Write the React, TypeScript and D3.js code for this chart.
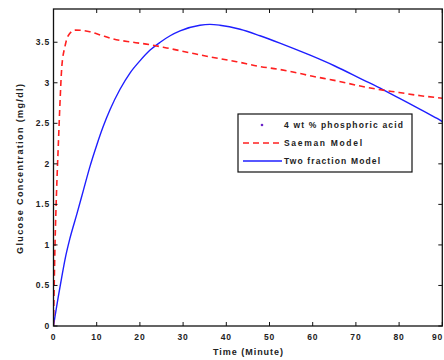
import React from "react";
import * as d3 from "d3";

// Time axis (minutes) and modelled glucose concentration (mg/dl)
const saemanTime = [0, 0.35, 0.7, 1.1, 1.5, 1.9, 2.66, 3.4, 5, 8.4, 10.8, 13.8, 18.4, 22.3, 26.2, 31.6, 36.2, 42.4, 47.8, 51.7, 55.7, 60, 65, 71, 75, 80, 85, 90];
const saemanConc = [0, 1.0, 1.65, 2.21, 2.75, 3.18, 3.45, 3.58, 3.65, 3.63, 3.59, 3.54, 3.5, 3.47, 3.43, 3.37, 3.32, 3.26, 3.2, 3.17, 3.13, 3.08, 3.03, 2.96, 2.92, 2.88, 2.84, 2.81];

const twoFracTime = [0, 0.35, 1.1, 1.9, 2.66, 3.8, 5.4, 6.9, 8.4, 10, 11.5, 13.1, 15.4, 17.7, 20, 22.3, 24.7, 27, 29.3, 33.9, 36.2, 38.5, 43.2, 47.8, 52.4, 59.4, 65, 71.9, 75, 80, 85, 88.8, 90];
const twoFracConc = [0, 0.12, 0.36, 0.6, 0.82, 1.08, 1.38, 1.67, 1.96, 2.23, 2.46, 2.67, 2.92, 3.12, 3.27, 3.4, 3.5, 3.58, 3.64, 3.71, 3.72, 3.71, 3.66, 3.58, 3.49, 3.34, 3.21, 3.03, 2.95, 2.81, 2.67, 2.56, 2.52];

const xTicks = [0, 10, 20, 30, 40, 50, 60, 70, 80, 90];
const yTicks = [0, 0.5, 1, 1.5, 2, 2.5, 3, 3.5];
const legendLabels = ["4 wt % phosphoric acid", "Saeman Model", "Two fraction Model"];
const legendWidths = [119, 78, 96];

const W = 444;
const H = 360;
const left = 53.5;
const right = 442.3;
const top = 9;
const bottom = 326;

export default function App() {
  const x = d3.scaleLinear().domain([0, 90]).range([left, right]);
  const y = d3.scaleLinear().domain([0, 3.91]).range([bottom, top]);

  const line = d3
    .line<[number, number]>()
    .x((d) => x(d[0]))
    .y((d) => y(d[1]))
    .curve(d3.curveMonotoneX);

  const saeman = line(saemanTime.map((t, i) => [t, saemanConc[i]] as [number, number])) || "";
  const twoFrac = line(twoFracTime.map((t, i) => [t, twoFracConc[i]] as [number, number])) || "";

  const font = "'Liberation Sans', Arial, sans-serif";
  const tickLen = 4;

  const lx = 238;
  const ly = 114;
  const lw = 174;
  const lh = 58;
  const rowY = [125, 143, 161];

  return (
    <svg
      width={W}
      height={H}
      style={{ position: "absolute", left: 0, top: 0, background: "#fff" }}
      fontFamily={font}
    >
      <defs>
        <clipPath id="plotClip">
          <rect x={left} y={top} width={right - left} height={bottom - top} />
        </clipPath>
      </defs>

      {/* curves */}
      <g clipPath="url(#plotClip)">
        <path d={twoFrac} fill="none" stroke="#1f1fff" strokeWidth={1.4} />
        <path d={saeman} fill="none" stroke="#ff2020" strokeWidth={1.6} strokeDasharray="6,4" />
      </g>

      {/* axes box */}
      <rect x={left} y={top} width={right - left} height={bottom - top} fill="none" stroke="#111" strokeWidth={1.3} />

      {/* x ticks */}
      {xTicks.map((t, i) => {
        const last = i === xTicks.length - 1;
        return (
          <g key={"x" + t}>
            <line x1={x(t)} x2={x(t)} y1={bottom} y2={bottom - tickLen} stroke="#111" strokeWidth={1} />
            <line x1={x(t)} x2={x(t)} y1={top} y2={top + tickLen} stroke="#111" strokeWidth={1} />
            <text
              x={last ? W - 1 : x(t)}
              y={340}
              textAnchor={last ? "end" : "middle"}
              fontSize={8.5}
              fontWeight="bold"
              letterSpacing={0.8}
              fill="#222"
            >
              {t}
            </text>
          </g>
        );
      })}

      {/* y ticks */}
      {yTicks.map((t) => (
        <g key={"y" + t}>
          <line x1={left} x2={left + tickLen} y1={y(t)} y2={y(t)} stroke="#111" strokeWidth={1} />
          <line x1={right} x2={right - tickLen} y1={y(t)} y2={y(t)} stroke="#111" strokeWidth={1} />
          <text x={50} y={y(t) + 3} textAnchor="end" fontSize={8.5} fontWeight="bold" letterSpacing={0.8} fill="#222">
            {t}
          </text>
        </g>
      ))}

      {/* axis labels */}
      <text
        x={248}
        y={355}
        textAnchor="middle"
        fontSize={9}
        fontWeight="bold"
        textLength={70}
        lengthAdjust="spacing"
        fill="#222"
      >
        Time (Minute)
      </text>
      <text
        transform="translate(23, 169) rotate(-90)"
        textAnchor="middle"
        fontSize={9}
        fontWeight="bold"
        textLength={170}
        lengthAdjust="spacing"
        fill="#222"
      >
        Glucose Concentration (mg/dl)
      </text>

      {/* legend */}
      <rect x={lx} y={ly} width={lw} height={lh} fill="#fff" stroke="#111" strokeWidth={1.2} />
      <circle cx={262} cy={rowY[0]} r={1.3} fill="#6a22c8" />
      <line x1={243} x2={282} y1={rowY[1]} y2={rowY[1]} stroke="#ff2020" strokeWidth={1.6} strokeDasharray="6,4" />
      <line x1={243} x2={282} y1={rowY[2]} y2={rowY[2]} stroke="#1f1fff" strokeWidth={1.4} />
      {legendLabels.map((l, i) => (
        <text
          key={l}
          x={284}
          y={rowY[i] + 3}
          fontSize={8.5}
          fontWeight="bold"
          textLength={legendWidths[i]}
          lengthAdjust="spacing"
          fill="#222"
        >
          {l}
        </text>
      ))}
    </svg>
  );
}
